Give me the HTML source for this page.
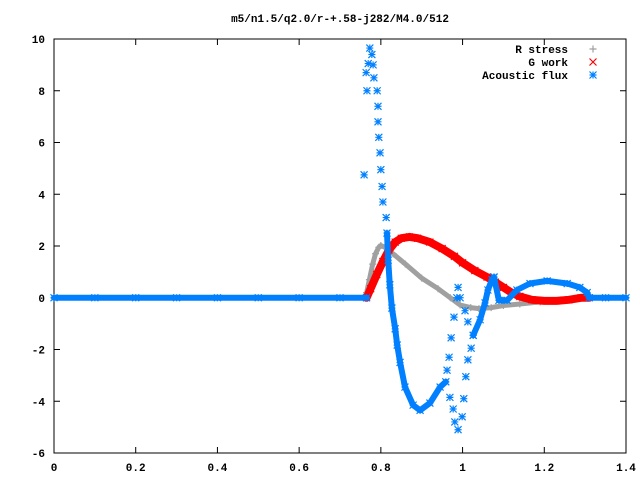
<!DOCTYPE html>
<html><head><meta charset="utf-8"><style>
body{margin:0;background:#fff}
svg{display:block;font-family:"Liberation Mono",monospace;font-size:11px;font-weight:bold}
</style></head><body>
<svg id="chart" width="640" height="480" xmlns="http://www.w3.org/2000/svg">
<rect x="0" y="0" width="640" height="480" fill="#fff"/>
<text x="340" y="22" text-anchor="middle">m5/n1.5/q2.0/r-+.58-j282/M4.0/512</text>
<g id="axes"></g>
<g id="series"></g>
<g id="legend"></g>
</svg>
<script>
const xTicks=[0,0.2,0.4,0.6,0.8,1,1.2,1.4];
const xTickLabels=["0","0.2","0.4","0.6","0.8","1","1.2","1.4"];
const yTicks=[-6,-4,-2,0,2,4,6,8,10];
const yTickLabels=["-6","-4","-2","0","2","4","6","8","10"];
// R stress (gray)
const rX=[0,0.2,0.4,0.6,0.76,0.765,0.772,0.78,0.787,0.795,0.8,0.81,0.83,0.86,0.9,0.94,0.97,0.994,1.02,1.04,1.07,1.1,1.14,1.19,1.24,1.29,1.31,1.35,1.4];
const rY=[0,0,0,0,0,0.2,0.7,1.3,1.7,1.95,2.02,1.95,1.7,1.3,0.76,0.35,0.0,-0.28,-0.38,-0.42,-0.38,-0.3,-0.24,-0.16,-0.08,0,0,0,0];
// G work (red)
const gX=[0.765,0.775,0.79,0.805,0.82,0.835,0.85,0.87,0.89,0.92,0.95,0.98,1.0,1.03,1.06,1.08,1.1,1.12,1.14,1.17,1.2,1.23,1.26,1.29,1.31];
const gY=[0,0.35,0.9,1.4,1.85,2.15,2.3,2.35,2.3,2.15,1.9,1.6,1.35,1.05,0.8,0.6,0.4,0.2,0.05,-0.08,-0.12,-0.12,-0.08,0,0];
// Acoustic flux (blue) dense band
const aX=[0,0.1,0.2,0.3,0.4,0.5,0.6,0.7,0.765,null,0.815,0.818,0.822,0.827,0.835,0.84,0.847,0.859,0.879,0.896,0.92,0.945,0.959,null,1.026,1.043,1.055,1.062,1.072,1.077,1.089,1.109,1.133,1.165,1.207,1.256,1.287,1.305,1.31,1.35,1.4];
const aY=[0,0,0,0,0,0,0,0,0,null,2.5,1.45,0.5,-0.4,-1.2,-1.83,-2.5,-3.45,-4.15,-4.35,-4.07,-3.45,-3.25,null,-1.45,-0.85,-0.2,0.3,0.7,0.8,-0.1,-0.1,0.3,0.55,0.65,0.55,0.4,0.2,0,0,0];
// Acoustic flux isolated points
const sX=[0.773,0.778,0.769,0.781,0.764,0.783,0.766,0.791,0.793,0.793,0.795,0.798,0.800,0.759,0.803,0.805,0.813,0.962,0.967,0.972,0.979,0.986,0.989,0.969,0.977,0.981,0.989,0.994,1.006,1.013,1.026,1.021,1.013,1.008,1.003,0.999,1.077];
const sY=[9.65,9.4,9.05,9.0,8.7,8.5,8.0,8.0,7.4,6.8,6.2,5.6,4.95,4.75,4.3,3.7,3.1,-2.8,-2.3,-1.55,-0.75,0.0,0.4,-3.85,-4.3,-4.8,-5.1,0,-0.5,-0.93,-1.45,-1.95,-2.4,-3.05,-3.9,-4.6,0.8];

const X0=54,X1=626,Y0=453,Y1=39;
const px=x=>X0+(x-0)/1.4*(X1-X0);
const py=y=>Y0-(y+6)/16*(Y0-Y1);
const NS="http://www.w3.org/2000/svg";
function mk(tag,attrs,parent){const e=document.createElementNS(NS,tag);for(const k in attrs)e.setAttribute(k,attrs[k]);parent.appendChild(e);return e;}
const axes=document.getElementById('axes'),ser=document.getElementById('series'),leg=document.getElementById('legend');

xTicks.forEach((t,i)=>{
  const x=px(t);
  const tk=mk('path',{d:`M${x},${Y0}v-6M${x},${Y1}v6`,stroke:'#000','stroke-width':1},axes);
  
  
  const l=mk('text',{x:x,y:Y0+18,'text-anchor':'middle'},axes);l.textContent=xTickLabels[i];
  
  
});
yTicks.forEach((t,i)=>{
  const y=py(t);
  const tk=mk('path',{d:`M${X0},${y}h6M${X1},${y}h-6`,stroke:'#000','stroke-width':1},axes);
  
  
  const l=mk('text',{x:X0-9,y:y+4,'text-anchor':'end'},axes);l.textContent=yTickLabels[i];
  
  
});

function line(xs,ys,color,w,name){
  let d='',pen=false;
  for(let i=0;i<xs.length;i++){
    if(xs[i]===null){pen=false;continue;}
    d+=(pen?'L':'M')+px(xs[i]).toFixed(1)+','+py(ys[i]).toFixed(1);pen=true;
  }
  const p=mk('path',{d:d,fill:'none',stroke:color,'stroke-width':w,'stroke-linejoin':'round','stroke-linecap':'round'},ser);
  
  
}
function marker(x,y,type,color,parent,name){
  const s=3.5;let d='';
  if(type==='+'||type==='*')d+=`M${x-s},${y}h${2*s}M${x},${y-s}v${2*s}`;
  if(type==='x'||type==='*')d+=`M${x-s},${y-s}l${2*s},${2*s}M${x-s},${y+s}l${2*s},${-2*s}`;
  const p=mk('path',{d:d,stroke:color,'stroke-width':1.2,fill:'none'},parent);
  
  
}
const GRAY='#a0a0a0',RED='#ff0000',BLUE='#0080ff';
line(rX,rY,GRAY,5,'r-stress-band');
rX.forEach((x,i)=>marker(px(x),py(rY[i]),'+',GRAY,ser,'r-stress-point'));
line(gX,gY,RED,8,'g-work-band');
gX.forEach((x,i)=>marker(px(x),py(gY[i]),'x',RED,ser,'g-work-point'));
line(aX,aY,BLUE,6,'acoustic-flux-band');
aX.forEach((x,i)=>{if(x!==null)marker(px(x),py(aY[i]),'*',BLUE,ser,'acoustic-flux-point');});
sX.forEach((x,i)=>marker(px(x),py(sY[i]),'*',BLUE,ser,'acoustic-flux-point'));

mk('rect',{x:X0,y:Y1,width:X1-X0,height:Y0-Y1,fill:'none',stroke:'#000','stroke-width':1},axes);

const legNames=["R stress","G work","Acoustic flux"],legTypes=['+','x','*'],legCols=[GRAY,RED,BLUE];
legNames.forEach((n,i)=>{
  const y=49+i*13;
  const t=mk('text',{x:568,y:y+4,'text-anchor':'end'},leg);t.textContent=n;
  
  
  marker(593,y,legTypes[i],legCols[i],leg,'legend-marker');
});
</script>
</body></html>
